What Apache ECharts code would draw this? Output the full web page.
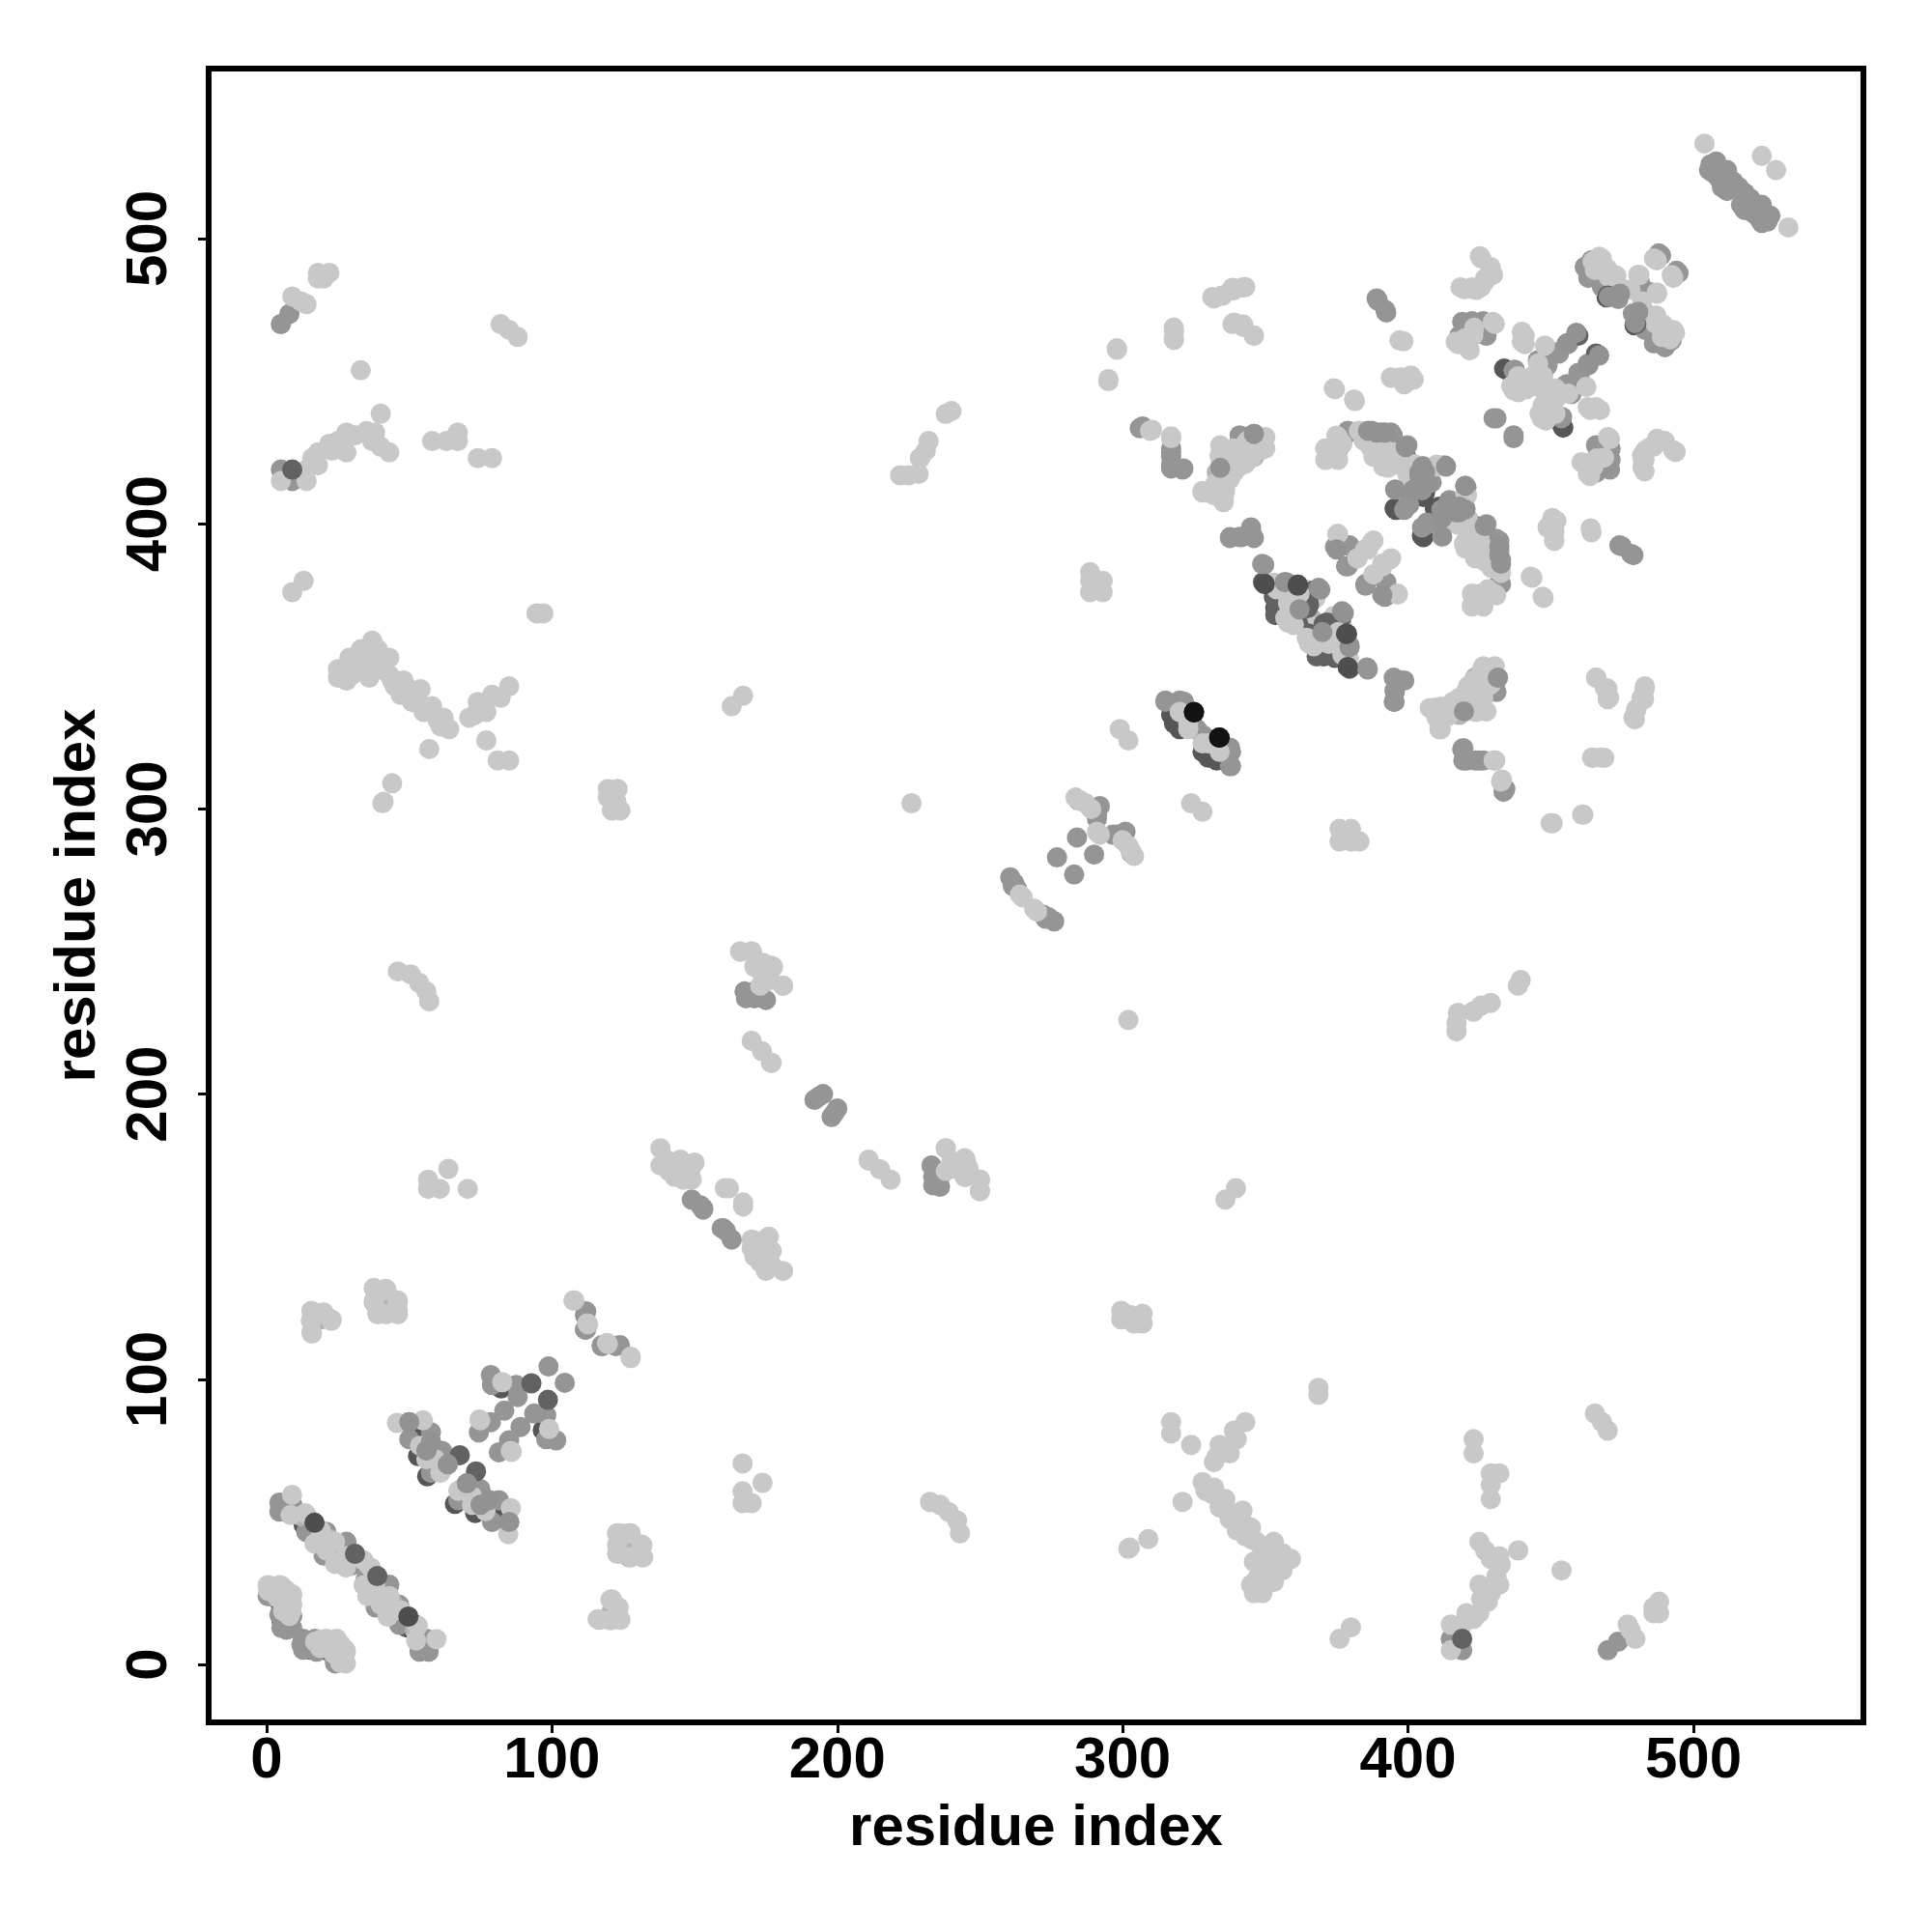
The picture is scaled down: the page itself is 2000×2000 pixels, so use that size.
<!DOCTYPE html>
<html><head><meta charset="utf-8">
<script src="https://cdn.jsdelivr.net/npm/echarts@6/dist/echarts.min.js"></script>
<style>html,body{margin:0;padding:0;background:#fff}#c{width:2000px;height:2000px}</style></head>
<body><div id="c"></div>
<script>
const axisTitle = "residue index";
const tickValues = [0,100,200,300,400,500];
const darkUnder = [[13,49],[5.2,21],[5.2,15.7],[5.5,14.5],[5,20.7],[51.2,81],[53.1,73.1],[56.3,66],[57.6,68],[82.2,96.8],
[353,374.3],[353.5,370.4],[364.8,370.4],[365.4,373.2],[367,376.6],[371,354],[375,353.4],[371.6,365.3],[349.8,378.9],[361.4,378.3],
[379.5,349.2],[376,365],[395.8,404.9],[405.4,395.3],[406,411],[405.4,409.4],[399.4,423],[392.4,426.9],[423.5,399.2],[317,333],[319,332],[323,329],[328,320],[330,318],
[434.5,454],[433.7,454.4],[469.6,479.4],[425.1,470.4],[14,52],[358,376],[360,369],[374,361]];
const midTone = [[4.5,56.8],[4.5,53.6],[9,56],[13.9,46.5],[20.9,46.5],[20,38.2],[28,43],[29.8,34.7],[8,13],[5.7,14],[5.7,18],[0.4,24],[1.3,24],[4.5,17.5],[5.2,12.8],[9,12.8],[7,12.2],[9,17],
[74.4,81.4],[78.6,85],[83.3,89],[78.6,101.5],[79,98],[87.4,98],[88,93.8],[98.8,104.5],[49.9,85],[57.6,81.4],[50,79],[57.6,77.9],[61.5,74.9],[63.5,70.2],[57.6,67.2],
[112,123.8],[112,117.5],[111.6,117.5],[117.5,111.6],[122.4,111.6],[149,163],[153,160],[159.5,153],[152,161],[233.6,171],[167.5,236],[171,236],[175,233],[172,234],[168,233.6],[193.4,199],[192,198],[195,200],[260.6,276],[261.5,273],[263,272],[262,274],
[277,283],[284,290],[284.5,303],[292,301],[291,298],[291,296.6],[315,338],[320,338],[321,337.5],[326,328],[330,324.5],[337.6,321.5],[337.6,315],
[306,433.5],[317,425],[317,420.5],[321,419],[346,430.4],[343,428],[341,431],[337.6,395],[341,395.4],[345,397.6],[346,395],[349.6,385.6],[385.9,348.9],[357.5,379.4],[362,368.1],[368.8,361.4],[379.5,356.8],[378.6,361.4],
[395.5,345.5],[398.7,345],[395.3,341.6],[395.3,337.6],[419.4,321.3],[419.4,317],[423.6,317],[426.4,317],[431.5,346.1],[430.4,343.3],[434.1,307],
[374.4,391.9],[379.4,392.1],[378.9,385.1],[385.1,378.3],[392.4,379.5],[392.4,375],[389.4,478.3],[392.4,474.1],[379.2,432],[387.9,432],[391.3,431.4],[394.7,430.9],
[405.4,419],[413.3,420.1],[399.2,412.2],[404.9,413.4],[408.3,414.5],[400.4,406.6],[398.7,404.9],[406.6,399.8],[420.5,412.8],[415,406.6],[411.7,404.9],[420.1,405.4],[412.8,399.8],[427.5,399.8],[430.9,394.2],[432,394],[432,390.7],[432.6,387.3],[431,388],[432.6,378.9],[429.7,387.4],
[474.9,392.1],[479,389],[506,526],[508,527],[508.8,521.2],[511.8,524],[514,520],[511.8,516.7],[507,523],[510,518],[512.5,521],[505.5,524],[510,522],[516,518],
[464.3,492.4],[462,490.1],[473.7,478.8],[471.4,481.1],[463.2,486.2],[468,483],[481.3,484.5],[488.7,494.1],[494.8,487.9],[456.1,463],[452.6,460.2],[448.5,455.1],[455.7,463.2],[452.9,459.7],[448.9,455.6],[446.1,452.6],[445.5,457.3],[437.4,454],[437,453.8],[431,437],[430,437],
[421,470.4],[427.5,469.8],[422.8,465.9],[427.5,465.9],[466.1,427.4],[471,426.3],[471,422.4],[470.8,419],[462,490],[464,488.5],[418,466],[426,467],
[5,419],[9,415],[5,470],[8,473.6]];
const paleTone = [[16.2,121],[18.8,121],[37.6,127],[42,127],[18,123],[375.5,425.8],[425.8,375],[424,338],[12,52],[24,39],[22,44],[340,424],[128,40],[40,125],[229,423],[420,334.2],[340,420],
[360,376],[362,372],[366,367],[423.5,346.1],[420,338],[418,333],[334,416],[401,418]];
const lightTone = [[1,27.6],[5.2,27.6],[9,24.6],[0.6,25.8],[7,26],[9,21],[3.9,23.4],[5.8,18.7],[8.7,18.7],[8,17],[8,21.4],[3.3,24.6],[4.5,27.8],[0.4,27.8],
[8.9,59.5],[8.4,52.4],[13.6,53],[16.8,42.4],[24,43],[24,35.3],[27.8,34],[21,40],[19,47],[28,38],[45.7,84.7],[54.8,85.6],[53.8,76.7],[60.9,67.2],[59,72],[62,69],[56,72],[74.9,85.6],[82.6,99],[74.6,85.9],
[107.9,127.6],[112.7,119.3],[119.6,112.4],[127.6,107.5],[15.9,116],[15.5,120.5],[16.2,123.4],[20,123.4],[22.7,120.5],[37.6,131.7],[41.8,131.7],[46,127],[38.9,122.8],[42,122.8],[46,122.8],
[124,46],[127.6,46],[131.4,42],[123.6,38.8],[127.6,37.6],[132,37.6],[121,22.8],[123,20],[116.6,15.7],[121,15.7],[124,15.7],
[166.8,70.5],[173.8,63.7],[166.8,60.7],[166.8,56.6],[170,56.6],[41,302.5],[44,309],[40.6,302],
[25,346],[25,349],[29,353],[33,356],[37,359],[33,351],[37,353],[43,353],[43,347],[48,345],[45,343],[54,342],[51,337.5],[58,336],[60,331],[64,328],[61,329],[40,349],[47,340],[55,334],[28,345],[36,346],[57,321],
[30,349],[35,349],[39,356],[41,350],[44,345],[50,342],[53,338],[57,334],[62,332],[30,347],
[71,332],[74,337.5],[79,340],[82,339],[85,343],[77,324],[81,317],[85,317],[73,333],[77,334],
[5,415],[14,415],[14,419],[18,420.5],[18,425],[22,428],[25,429],[28,432],[35,432.5],[37,429],[40,427],[43,425],[40,438.6],[16,423],[23,425.6],[33,453.8],[58,429],[63,429],[67,432],[67,429],[74,423],[79,423],[31,431],[38,432],[28,425],[34,36.5],
[9,376],[13,380],[94.6,368.6],[97,368.6],[9,479.7],[12,478],[14,477],[18,488],[22,488],[18,486],[20,486],[82,470],[85,468],[88,465.5],
[46,243],[50.5,242],[53.5,239],[56,236],[57,232.5],[119.6,307],[123,307],[119.6,304],[122.6,302.5],[124,299.5],[121,299.5],[163,336],[167,339.7],[226,302],
[222,417],[225,417],[229,423],[231,425.6],[232,429],[240,439.5],[228.5,417.5],[238,438.5],[138,181],[140,177],[145,177],[138,175],[143,171],[148.5,173],[146,170],[149,170],[160.6,167],[162,167],
[141,173],[144,174],[150,176],[147,172],
[166,250],[170,250],[171,244.6],[174,246],[177.5,244.6],[176.6,240],[181,238],[174,241],[170,218.7],[173.6,215],[177,211],[176.7,211],[238,173],[238,181],[245,177],[245,171],
[250,170],[250,166],[264,270],[265,269],[287,302],[289,300],[285,303],[291,292],[304,283.5],[303,285],[323,330],[328,323],[320,334],[324,302],[328,299],
[288.6,383],[288.6,380],[293,380],[288.6,376],[293,376],[291,378],[295,450],[298,461],[318,467.5],[318,464.5],[338.5,470],[342.4,469],[346,466],[332,479],[335,480],[338.5,482.7],[343,483],
[309.6,432.6],[317,430],[328,411],[332,410],[335.5,409.7],[335,413],[334,419.6],[334,424],[338.5,423],[340.7,426],[343.7,429],[349,429],[349,426],[345,423],[339,418],[343,421],
[353.2,378.9],[358.6,372.6],[358,365.3],[365.4,358],[372,358.5],[376.1,359.7],[373.9,367.6],[379.3,352.9],[366,376],[364,366],[360,368],[374,356],[377,364],[371,362],
[407.6,335.4],[411.7,335.9],[414,332.5],[411.5,328],[415.7,337.6],[420.2,341],[426.4,350],[430.4,350],[426.4,338.8],[427.5,334.2],[423,334.2],[424.7,342.2],[428,343],[430.6,317],[432.9,310.3],[450.7,295],[461.5,298],[464.8,317.9],[468.8,317.9],
[465.9,346],[469.9,342.2],[470.5,339],[479.5,331.4],[480,334.8],[481.8,338.8],[482.9,342],[375.5,396.4],[387.4,393.6],[386,391],[382.3,387.9],[394.1,387.9],[387.9,382.3],[396.4,375.2],[391,385],
[398.4,464],[394.1,451.2],[398.1,451.2],[402,450.6],[398.7,448.9],[374.4,447.2],[381.4,443],[371.5,425.8],[371.3,422.4],[375.5,422.4],[375.5,430.3],[383.4,432],[387.9,423.5],[394.1,420.7],[398.1,420.1],[384.5,429.2],[391.3,420.1],[386.8,426.9],[390,428],[395,425],
[410.5,420.1],[400.4,415.6],[403,416],[420.7,410],[417.3,399.8],[419.6,393],[424.1,388.5],[420.2,393],[424.7,388.5],[428.6,385.6],[423,396],[426,392],[421,402],[432.6,382.8],[430.9,374.9],[422.4,371],[426.4,371],[423.6,374.9],[428,377],[443.6,381.1],[447.5,374],
[451.3,394],[451.3,397],[464.3,397],[450,400],[452,401],[503.9,533.3],[524,529],[467.9,493],[465.5,489],[470.2,486.7],[472.5,484.5],[475.5,482.2],[467,490],[473,487],[480.7,487.3],[487.2,481.1],[487.2,492.4],[493,486.2],[478,482],
[483,474],[486.6,472.1],[489.5,469.8],[493.6,467],[491.9,464.7],[447.4,451.7],[445.6,456.2],[448,462.5],[440.9,465.9],[440.9,463],[436.2,448.3],[438.6,451.7],[441.5,447.2],[438.6,446.1],[440.4,447.4],[439.3,450.3],[437,446.8],[439.9,463.8],[439.9,467.3],[444,452],[446,448],[442,450],
[425.7,493],[429.8,487.3],[426.9,485],[422.8,482.2],[419.8,482.2],[424,482],[417.5,463],[421.6,460.8],[423.2,468.7],[430.4,470.1],[420,465],[470.8,429.7],[466.1,422.9],[462,421.2],[463.8,416.7],[487.2,429.1],[490,429],[483.1,425.7],[482.9,422.4],[482.9,418.4],[493.8,425.2],[486,427]];
const upperDark = [[367,376.6],[371.6,365.3],[364.8,370.4],[372,354],[353.5,374],[353.5,368],[375,353.4],[361.5,365],[470,480],[92.8,98.6],[67.7,73.4],[31,38.8],[9,419],[459.7,465.9],[466.7,459.1]];
const topLight = [[358,372],[357,367],[360,364.5],[372.5,358],[375.5,362],[354,377]];
const topMid = [[375,391],[470.4,479.6],[459,467],[480.7,474.3],[431.5,346],[419.6,334.2],[463.2,455.7],[395.5,412],[399.2,426.9],[405,415],[406,418],[369.3,376.9],[377.5,368.7],[379.5,356.8],[432,392],[432,389],[432.6,386],[404,417],[403,412],[413.3,420.1],[420.1,405],[418,404],[412,402],[414,407],[63.5,70.2],[57.6,78],[56,75],[50,85],[362,370]];
const topDark = [[16.8,49.7],[361.4,378.3],[349.8,378.9],[378.6,361.4]];
const blackest = [[325,334],[333.8,325]];

const shades = [
  {name:"darkUnder", points:darkUnder, color:"#565656"},
  {name:"midTone", points:midTone, color:"#959595"},
  {name:"paleTone", points:paleTone, color:"#b4b4b4"},
  {name:"lightTone", points:lightTone, color:"#c8c8c8"},
  {name:"upperDark", points:upperDark, color:"#626262"},
  {name:"topLight", points:topLight, color:"#c8c8c8"},
  {name:"topMid", points:topMid, color:"#929292"},
  {name:"topDark", points:topDark, color:"#4e4e4e"},
  {name:"blackest", points:blackest, color:"#121212"}
];
const font = {fontFamily:"Liberation Sans", fontWeight:"bold", fontSize:60, color:"#000"};
const axisBase = {
  type:"value", min:-20.3, max:559.6, name:axisTitle, nameLocation:"middle",
  nameTextStyle:font, splitLine:{show:false},
  axisLine:{show:false,onZero:false},
  axisTick:{show:true,length:11,inside:false,customValues:tickValues,lineStyle:{color:"#000",width:3}}
};
const chart = echarts.init(document.getElementById("c"),null,{renderer:"canvas"});
chart.setOption({
  animation:false, backgroundColor:"#fff",
  grid:{left:216,right:2000-1929,top:71,bottom:2000-1783,show:true,borderColor:"#000",borderWidth:6,backgroundColor:"transparent"},
  xAxis:Object.assign({},axisBase,{position:"bottom",nameGap:80,
    axisLabel:Object.assign({},font,{margin:10,customValues:tickValues,formatter:v=>String(v)})}),
  yAxis:Object.assign({},axisBase,{position:"left",nameGap:105,nameRotate:90,
    axisLabel:Object.assign({},font,{margin:31,rotate:90,customValues:tickValues,formatter:v=>String(v),align:"center",verticalAlign:"bottom"})}),
  series:shades.map(s=>({
    type:"scatter", name:s.name, symbolSize:21, silent:true,
    itemStyle:{color:s.color,opacity:1},
    data:s.points.concat(s.points.map(p=>[p[1],p[0]]))
  }))
});
</script></body></html>
